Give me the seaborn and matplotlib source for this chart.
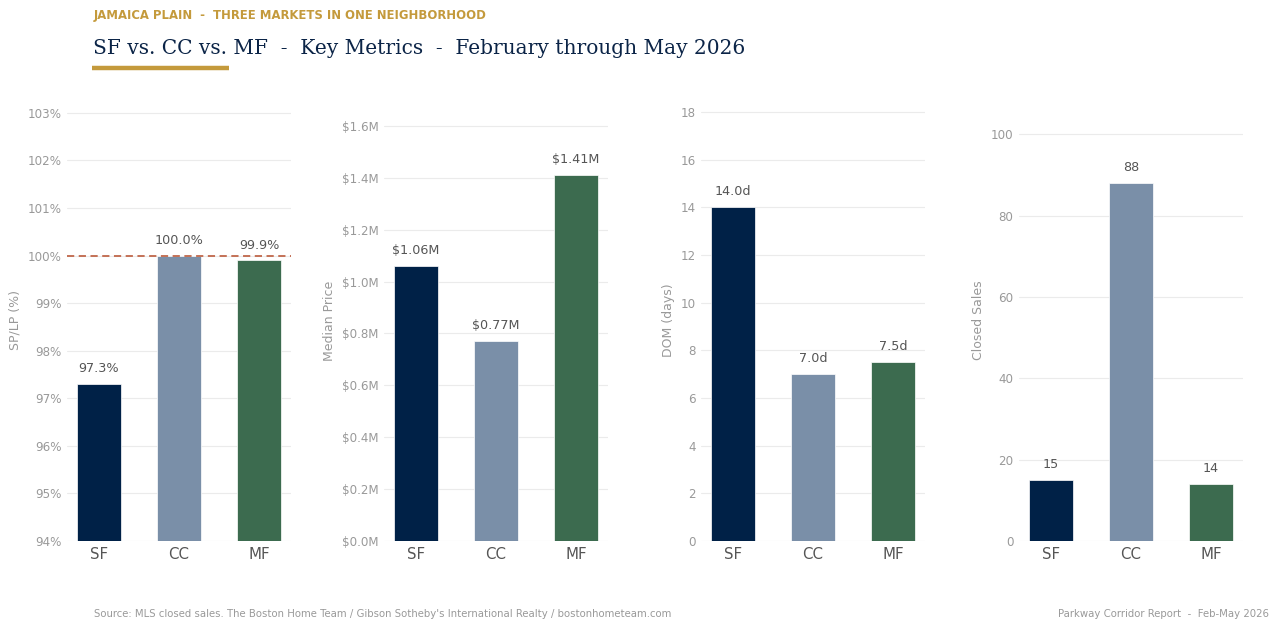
import matplotlib
matplotlib.use("Agg")
import matplotlib.pyplot as plt
import seaborn as sns
import pandas as pd
from matplotlib.ticker import FuncFormatter, MultipleLocator

categories = ["SF", "CC", "MF"]
splp = [97.3, 100.0, 99.9]
median_price_m = [1.06, 0.77, 1.41]
dom_days = [14.0, 7.0, 7.5]
closed_sales = [15, 88, 14]

splp_labels = ["97.3%", "100.0%", "99.9%"]
price_labels = ["$1.06M", "$0.77M", "$1.41M"]
dom_labels = ["14.0d", "7.0d", "7.5d"]
sales_labels = ["15", "88", "14"]

colors = ["#002147", "#7A8FA8", "#3C6B4F"]
NAVY = "#0B2447"
GOLD = "#C49A3C"
GRID = "#EBEBEB"
TICK = "#999999"
VAL = "#555555"

sns.set_theme(style="white")
plt.rcParams["font.family"] = ["DejaVu Sans"]

fig = plt.figure(figsize=(12.8, 6.31), dpi=100)

lefts = [67, 384, 701, 1019]
panels = [
    (splp, splp_labels, "SP/LP (%)", (94, 103.27), 1, lambda v, p: f"{v:.0f}%"),
    (median_price_m, price_labels, "Median Price", (0, 1.70), 0.2, lambda v, p: f"${v:.1f}M"),
    (dom_days, dom_labels, "DOM (days)", (0, 18.5), 2, lambda v, p: f"{v:.0f}"),
    (closed_sales, sales_labels, "Closed Sales", (0, 108.4), 20, lambda v, p: f"{v:.0f}"),
]

for i, (vals, labs, ylab, ylim, step, fmt) in enumerate(panels):
    ax = fig.add_axes([lefts[i] / 1280, 1 - 541 / 631, 224 / 1280, (541 - 100) / 631])
    df = pd.DataFrame({"cat": categories, "val": vals})
    sns.barplot(data=df, x="cat", y="val", hue="cat", palette=colors, legend=False,
                saturation=1, width=0.55, ax=ax, edgecolor="white", linewidth=0.5, zorder=3)
    ax.set_ylim(*ylim)
    ax.set_xlim(-0.4, 2.4)
    ax.yaxis.set_major_locator(MultipleLocator(step))
    ax.yaxis.set_major_formatter(FuncFormatter(fmt))
    ax.grid(axis="y", color=GRID, linewidth=0.8, zorder=0)
    ax.set_axisbelow(True)
    for s in ax.spines.values():
        s.set_visible(False)
    ax.tick_params(axis="y", colors=TICK, labelsize=8.6, length=0, pad=4)
    ax.tick_params(axis="x", colors=VAL, labelsize=10.8, length=0, pad=4)
    ax.set_xlabel("")
    ax.set_ylabel(ylab, color=TICK, fontsize=9, labelpad=4)
    span = ylim[1] - ylim[0]
    for j, (v, l) in enumerate(zip(vals, labs)):
        ax.text(j, v + span * 0.02, l, ha="center", va="bottom", color=VAL, fontsize=9.2)
    if i == 0:
        ax.axhline(100, color="#C0674A", linestyle=(0, (4, 2.5)), linewidth=1.3, zorder=4)

fig.text(94 / 1280, 1 - 16 / 631, "JAMAICA PLAIN  -  THREE MARKETS IN ONE NEIGHBORHOOD",
         color=GOLD, fontsize=8.4, fontweight="bold", va="center", ha="left")
fig.text(93 / 1280, 1 - 48 / 631, "SF vs. CC vs. MF  -  Key Metrics  -  February through May 2026",
         color=NAVY, fontsize=14.5, family="DejaVu Serif", va="center", ha="left")
fig.add_artist(plt.Line2D([92 / 1280, 229 / 1280], [1 - 68 / 631, 1 - 68 / 631],
                          color=GOLD, linewidth=3.2, solid_capstyle="butt"))
fig.text(94 / 1280, 1 - 614 / 631,
         "Source: MLS closed sales. The Boston Home Team / Gibson Sotheby's International Realty / bostonhometeam.com",
         color=TICK, fontsize=7.25, va="center", ha="left")
fig.text(1269 / 1280, 1 - 614 / 631, "Parkway Corridor Report  -  Feb-May 2026",
         color=TICK, fontsize=7.25, va="center", ha="right")

fig.savefig("out.png", dpi=100, facecolor="white")
